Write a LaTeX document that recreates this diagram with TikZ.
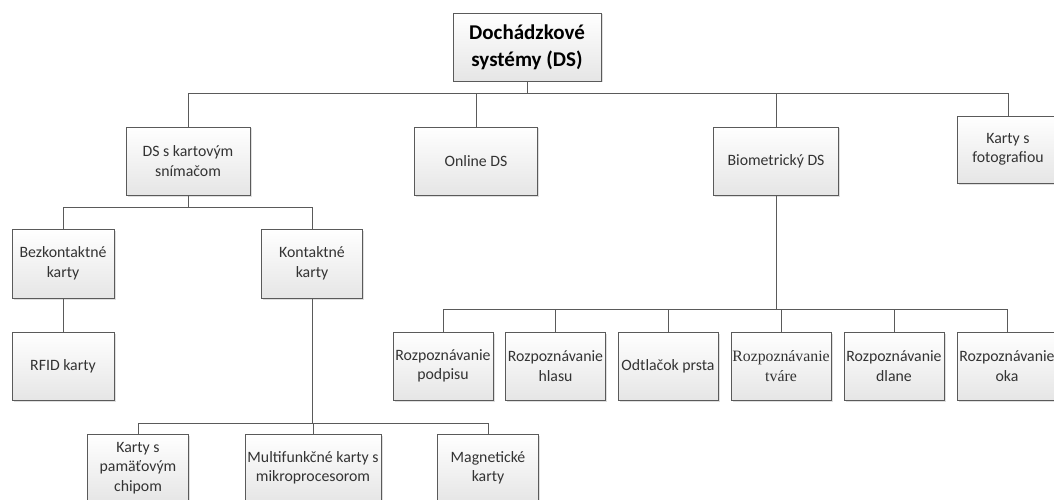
\documentclass[tikz,border=0pt]{standalone}
\usepackage{fontspec}
\setmainfont{Carlito}
\newfontfamily\timesfont{Liberation Serif}
\usepackage{xcolor}
\usepackage{tikz}
\usetikzlibrary{positioning,shadows}

\definecolor{boxline}{HTML}{5A5A5A}
\definecolor{boxtext}{HTML}{333333}

\begin{document}
\begin{tikzpicture}[x=1pt,y=1pt]

\useasboundingbox (0,0) rectangle (1054,499);

\tikzstyle{mybox} = [draw=boxline, line width=0.8pt, rectangle, top color=white, bottom color=black!10,
  drop shadow={shadow xshift=1.5pt, shadow yshift=-1.5pt, fill=black!25, opacity=0.5},
  minimum height=68pt, inner sep=1pt, align=center, text=boxtext,
  font=\fontsize{15.8}{19.5}\selectfont]
\tikzstyle{myline} = [draw=boxline, line width=0.8pt]

% top level
\node (root) [mybox, minimum width=148pt, text=black, font=\fontsize{21}{27}\selectfont\bfseries] at (527,452) {Dochádzkové\\systémy (DS)};

\node (kart) [mybox, minimum width=124pt] at (188,338) {DS s kartovým\\snímačom};
\node (online) [mybox, minimum width=123pt] at (476,338) {Online DS};
\node (bio) [mybox, minimum width=125pt] at (776,338) {Biometrický DS};
\node (foto) [mybox, minimum width=102pt, minimum height=67pt] at (1008,349.5) {Karty s\\fotografiou};

% card readers
\node (bez) [mybox, minimum width=102pt, minimum height=69pt] at (63,235.5) {Bezkontaktné\\karty};
\node (kon) [mybox, minimum width=101pt, minimum height=69pt] at (312,235.5) {Kontaktné\\karty};
\node (rfid) [mybox, minimum width=102pt] at (63,133) {RFID karty};

\node (chip) [mybox, minimum width=101pt] at (138,31) {Karty s\\pamäťovým\\chipom};
\node (multi) [mybox, minimum width=136pt] at (313,31) {Multifunkčné karty s\\mikroprocesorom};
\node (mag) [mybox, minimum width=101pt] at (488,31) {Magnetické\\karty};

% biometrics
\node (podpis) [mybox, minimum width=100pt] at (443,133) {Rozpoznávanie\\podpisu};
\node (hlas) [mybox, minimum width=100pt] at (555.5,133) {Rozpoznávanie\\hlasu};
\node (prst) [mybox, minimum width=100pt] at (668,133) {Odtlačok prsta};
\node (tvar) [mybox, minimum width=100pt, font=\timesfont\fontsize{15.8}{19.5}\selectfont] at (781,133) {Rozpoznávanie\\tváre};
\node (dlan) [mybox, minimum width=100pt] at (894,133) {Rozpoznávanie\\dlane};
\node (oko) [mybox, minimum width=100pt] at (1007,133) {Rozpoznávanie\\oka};

\draw [myline] (root.south) -- ++(0,-12) -| (kart.north);
\draw [myline] (root.south) -- ++(0,-12) -| (online.north);
\draw [myline] (root.south) -- ++(0,-12) -| (bio.north);
\draw [myline] (root.south) -- ++(0,-12) -| (foto.north);

\draw [myline] (kart.south) -- ++(0,-12) -| (bez.north);
\draw [myline] (kart.south) -- ++(0,-12) -| (kon.north);
\draw [myline] (bez.south) -- (rfid.north);

\draw [myline] (kon.south) -- ++(0,-125) -| (chip.north);
\draw [myline] (kon.south) -- ++(0,-125) -| (multi.north);
\draw [myline] (kon.south) -- ++(0,-125) -| (mag.north);

\draw [myline] (bio.south) -- ++(0,-114) -| (podpis.north);
\draw [myline] (bio.south) -- ++(0,-114) -| (hlas.north);
\draw [myline] (bio.south) -- ++(0,-114) -| (prst.north);
\draw [myline] (bio.south) -- ++(0,-114) -| (tvar.north);
\draw [myline] (bio.south) -- ++(0,-114) -| (dlan.north);
\draw [myline] (bio.south) -- ++(0,-114) -| (oko.north);

\end{tikzpicture}
\end{document}
